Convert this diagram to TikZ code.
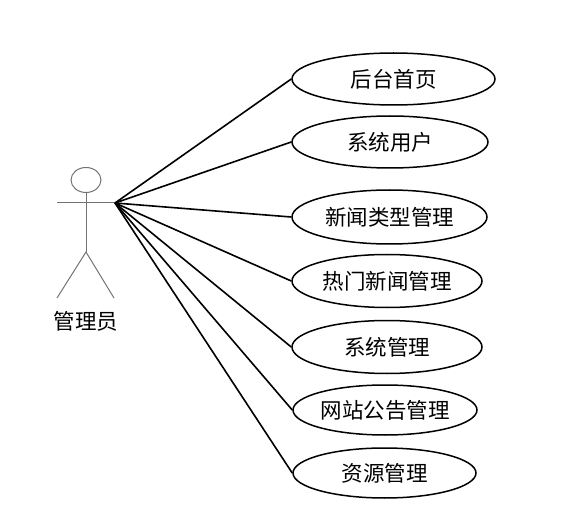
\documentclass[tikz,border=0pt]{standalone}
\usepackage{fontspec}
\setmainfont{Noto Sans CJK SC}
\usetikzlibrary{shapes.geometric}

\begin{document}
\begin{tikzpicture}[x=1pt,y=-1pt,
  every node/.style={font=\fontsize{21.5}{25}\selectfont},
  usecase/.style={ellipse,draw=black,line width=1.5pt,inner sep=0pt},
  link/.style={draw=black,line width=1.6pt},
  stick/.style={draw=black!55,line width=1pt}]
  \useasboundingbox (0,0) rectangle (571,524);
  % actor
  \draw[stick] (86,180) ellipse (15 and 12.5);
  \draw[stick] (86,192.5) -- (86,252);
  \draw[stick] (57,203) -- (115,203);
  \draw[stick] (57,298) -- (86,252) -- (114,298);
  \coordinate (hand) at (115,203);
  \node (admin) at (86,321) {管理员};
  % use cases
  \node[usecase,minimum width=203pt,minimum height=52pt] (home) at (393.5,79) {后台首页};
  \node[usecase,minimum width=196pt,minimum height=52pt] (sysuser) at (390,142) {系统用户};
  \node[usecase,minimum width=195pt,minimum height=54pt] (newstype) at (389.5,217) {新闻类型管理};
  \node[usecase,minimum width=190pt,minimum height=53pt] (hotnews) at (387,281) {热门新闻管理};
  \node[usecase,minimum width=190pt,minimum height=53pt] (sysmgr) at (387,347) {系统管理};
  \node[usecase,minimum width=184pt,minimum height=50pt] (notice) at (385,410) {网站公告管理};
  \node[usecase,minimum width=183pt,minimum height=50pt] (resource) at (384.5,473) {资源管理};
  \foreach \uc in {home,sysuser,newstype,hotnews,sysmgr,notice,resource}
    \draw[link] (hand) -- (\uc.west);
\end{tikzpicture}
\end{document}
